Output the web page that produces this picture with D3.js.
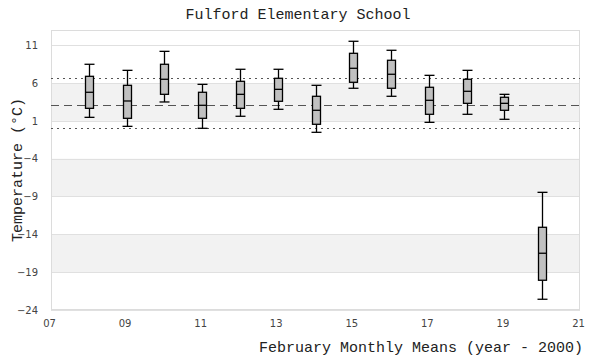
<!DOCTYPE html>
<html><head><meta charset="utf-8">
<script src="https://cdn.jsdelivr.net/npm/d3@7"></script>
<style>body{margin:0;background:#fff}svg{display:block}</style>
</head><body>
<svg id="c" width="600" height="360"></svg>
<script>
const years = [8,9,10,11,12,13,14,15,16,17,18,19,20];
const whiskerHigh = [8.47,7.67,10.18,5.82,7.81,7.81,5.69,11.51,10.32,7.01,7.67,4.5,-8.45];
const q3 = [6.88,5.69,8.47,4.77,6.22,6.62,4.24,9.92,9.0,5.43,6.49,4.11,-13.07];
const median = [4.77,3.62,6.49,3.05,4.5,5.16,2.39,7.94,7.15,3.71,4.9,3.31,-16.5];
const q1 = [2.65,1.33,4.5,1.33,2.65,3.58,0.54,6.09,5.3,1.86,3.31,2.39,-20.07];
const whiskerLow = [1.46,0.27,3.49,0.01,1.6,2.52,-0.52,5.3,4.24,0.8,1.86,1.2,-22.58];
const yTicks = [-24,-19,-14,-9,-4,1,6,11];
const xTicks = [7,9,11,13,15,17,19,21];
const meanLine = 3.05;
const upperRef = 6.62;
const lowerRef = 0.01;
const title = "Fulford Elementary School";
const xTitle = "February Monthly Means (year - 2000)";
const yTitle = "Temperature (°C)";

const L=51,R=580,T=30,B=310;
const svg=d3.select("#c");
const x=d3.scaleLinear().domain([7,21]).range([L,R]);
const y=d3.scaleLinear().domain([-24,13]).range([B,T]);

const bands=[[1,6],[-9,-4],[-19,-14]];
svg.selectAll("rect.band").data(bands).enter().append("rect")
 .attr("x",L).attr("width",R-L).attr("y",d=>y(d[1])).attr("height",d=>y(d[0])-y(d[1]))
 .attr("fill","#f2f2f2");
svg.selectAll("line.grid").data(yTicks).enter().append("line")
 .attr("x1",L).attr("x2",R).attr("y1",d=>Math.round(y(d))+0.5).attr("y2",d=>Math.round(y(d))+0.5)
 .attr("stroke","#e0e0e0").attr("stroke-width",1);
svg.append("rect").attr("x",L+0.5).attr("y",T+0.5).attr("width",R-L-1).attr("height",B-T-1)
 .attr("fill","none").attr("stroke","#dcdcdc");

function ref(v,dash,w){
  const yy=Math.round(y(v))+0.5;
  svg.append("line").attr("x1",L).attr("x2",R).attr("y1",yy).attr("y2",yy)
   .attr("stroke","#555").attr("stroke-width",w).attr("stroke-dasharray",dash);
}
ref(meanLine,"8,5",1.1);
ref(upperRef,"2,4",1);
ref(lowerRef,"2,4",1);

const bw=8, cw=9;
const g=svg.append("g");
years.forEach((yr,i)=>{
  const cx=Math.round(x(yr))+0.5;
  g.append("line").attr("x1",cx).attr("x2",cx).attr("y1",y(whiskerHigh[i])).attr("y2",y(q3[i])).attr("stroke","#000").attr("stroke-width",1.3);
  g.append("line").attr("x1",cx).attr("x2",cx).attr("y1",y(q1[i])).attr("y2",y(whiskerLow[i])).attr("stroke","#000").attr("stroke-width",1.3);
  g.append("line").attr("x1",cx-cw/2-0.5).attr("x2",cx+cw/2+0.5).attr("y1",y(whiskerHigh[i])).attr("y2",y(whiskerHigh[i])).attr("stroke","#000").attr("stroke-width",1.3);
  g.append("line").attr("x1",cx-cw/2-0.5).attr("x2",cx+cw/2+0.5).attr("y1",y(whiskerLow[i])).attr("y2",y(whiskerLow[i])).attr("stroke","#000").attr("stroke-width",1.3);
  g.append("rect").attr("x",cx-bw/2).attr("width",bw).attr("y",y(q3[i])).attr("height",y(q1[i])-y(q3[i]))
   .attr("fill","#c0c0c0").attr("stroke","#000").attr("stroke-width",1.3);
  g.append("line").attr("x1",cx-bw/2).attr("x2",cx+bw/2).attr("y1",y(median[i])).attr("y2",y(median[i])).attr("stroke","#000").attr("stroke-width",1.3);
});

const yAxis=d3.axisLeft(y).tickValues(yTicks).tickSize(0).tickPadding(13);
const ya=svg.append("g").attr("transform",`translate(${L},0)`).call(yAxis);
const xAxis=d3.axisBottom(x).tickValues(xTicks).tickSize(0).tickPadding(10).tickFormat(d3.format("02d"));
const xa=svg.append("g").attr("transform",`translate(-2,${B})`).call(xAxis);
[ya,xa].forEach(a=>{a.select(".domain").remove();a.selectAll("text").attr("fill","#444").style("font-family","DejaVu Sans, sans-serif").style("font-size","10px");});

const mono="'Liberation Mono', 'DejaVu Sans Mono', monospace";
svg.append("text").attr("x",298).attr("y",19).attr("text-anchor","middle")
 .style("font-family",mono).style("font-size","15px").attr("fill","#222").text(title);
svg.append("text").attr("x",583).attr("y",352).attr("text-anchor","end")
 .style("font-family",mono).style("font-size","15px").attr("fill","#222").text(xTitle);
svg.append("text").attr("transform","translate(22,170) rotate(-90)").attr("text-anchor","middle")
 .style("font-family",mono).style("font-size","15px").attr("fill","#222").text(yTitle);
</script>
</body></html>
